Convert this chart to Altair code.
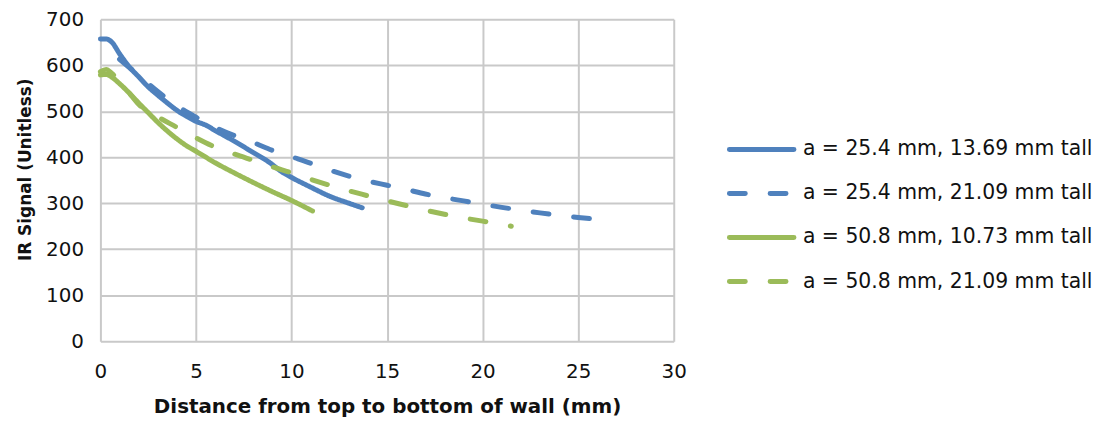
import altair as alt
import pandas as pd

series_names = [
    "a = 25.4 mm, 13.69 mm tall",
    "a = 25.4 mm, 21.09 mm tall",
    "a = 50.8 mm, 10.73 mm tall",
    "a = 50.8 mm, 21.09 mm tall",
]

x1 = [0, 0.3, 0.6, 1.0, 1.5, 2.0, 2.5, 3.0, 3.5, 4.0, 4.5, 5.0, 5.5, 6.0, 7.0, 8.0, 8.8, 9.5, 10.0, 11.0, 12.0, 13.0, 13.7]
y1 = [657, 657, 650, 625, 597, 575, 553, 535, 518, 502, 489, 478, 470, 458, 435, 410, 390, 368, 356, 335, 315, 300, 290]

x2 = [1.0, 2.0, 3.0, 4.0, 5.0, 6.0, 7.0, 8.0, 9.0, 10.0, 11.0, 12.0, 13.0, 14.0, 15.0, 16.0, 17.0, 18.0, 19.0, 20.0, 21.0, 22.0, 23.0, 24.0, 25.0, 26.0, 26.8]
y2 = [613, 578, 543, 512, 487, 465, 447, 432, 415, 401, 387, 372, 359, 348, 339, 330, 320, 312, 305, 298, 291, 285, 279, 274, 269, 265, 262]

x3 = [0, 0.3, 0.6, 1.0, 1.5, 2.0, 2.5, 3.0, 3.5, 4.0, 4.5, 5.0, 6.0, 7.0, 8.0, 9.0, 10.0, 11.1]
y3 = [579, 580, 574, 560, 540, 518, 497, 476, 457, 440, 425, 413, 388, 366, 345, 325, 306, 283]

x4 = [0, 0.3, 0.6, 1.0, 1.5, 2.0, 3.0, 4.0, 5.0, 6.0, 7.0, 8.0, 9.0, 10.0, 11.0, 12.0, 13.0, 14.0, 15.0, 16.0, 17.0, 18.0, 19.0, 20.0, 21.0, 21.5]
y4 = [586, 591, 582, 565, 540, 515, 488, 465, 442, 422, 407, 393, 379, 366, 352, 339, 327, 316, 305, 295, 285, 276, 268, 261, 254, 250]

x_ticks = [0, 5, 10, 15, 20, 25, 30]
y_ticks = [0, 100, 200, 300, 400, 500, 600, 700]

frames = []
for name, xs, ys in zip(series_names, [x1, x2, x3, x4], [y1, y2, y3, y4]):
    frames.append(pd.DataFrame({"series": name, "x": xs, "y": ys, "order": range(len(xs))}))
df = pd.concat(frames, ignore_index=True)
leg_df = pd.DataFrame({"series": series_names})

BLUE = "#4F81BD"
GREEN = "#9BBB59"
SOLID = [1, 0]
DASH = [16, 25]

color_scale = alt.Scale(domain=series_names, range=[BLUE, BLUE, GREEN, GREEN])
dash_scale = alt.Scale(domain=series_names, range=[SOLID, DASH, SOLID, DASH])

lines = alt.Chart(df).mark_line(
    strokeWidth=5, strokeCap="round", strokeJoin="round", interpolate="monotone"
).encode(
    x=alt.X("x:Q", scale=alt.Scale(domain=[0, 30], nice=False),
            axis=alt.Axis(values=x_ticks, title="Distance from top to bottom of wall (mm)",
                          labelPadding=21, labelFlush=False, titleY=66, titleBaseline="middle")),
    y=alt.Y("y:Q", scale=alt.Scale(domain=[0, 700], nice=False),
            axis=alt.Axis(values=y_ticks, title="IR Signal (Unitless)",
                          labelPadding=17, titleX=-75, titleY=151, titleAngle=270,
                          titleAlign="center", titleBaseline="middle", titleFontSize=17)),
    color=alt.Color("series:N", scale=color_scale, legend=None),
    strokeDash=alt.StrokeDash("series:N", scale=dash_scale, legend=None),
    order="order:Q",
)

leg_y = alt.Y("series:N", scale=alt.Scale(type="point", domain=series_names, range=[131, 264], padding=0),
              axis=None)

leg_rules = alt.Chart(leg_df).mark_rule(strokeWidth=5, strokeCap="round").encode(
    x=alt.value(633), x2=alt.value(698), y=leg_y,
    color=alt.Color("series:N", scale=color_scale, legend=None),
    strokeDash=alt.StrokeDash("series:N", scale=dash_scale, legend=None),
)

leg_text = alt.Chart(leg_df).mark_text(
    align="left", baseline="middle", font="DejaVu Sans", fontSize=20.5, color="#111"
).encode(
    x=alt.value(707), y=leg_y, text="series:N",
)

chart = alt.layer(lines, leg_rules, leg_text).resolve_scale(
    y="independent"
).properties(
    width=577, height=324,
    padding={"left": 93, "top": 10, "right": 430, "bottom": 75},
    autosize=alt.AutoSizeParams(type="none"),
).configure_view(
    stroke=None
).configure_axis(
    grid=True, gridColor="#c9c9c9", gridWidth=2, domain=False, ticks=False,
    labelFont="DejaVu Sans", labelFontSize=20, labelColor="#111",
    titleFont="DejaVu Sans", titleFontSize=20, titleFontWeight="bold", titleColor="#111",
)

chart.save("out.html", embed_options={"renderer": "svg", "actions": False})
